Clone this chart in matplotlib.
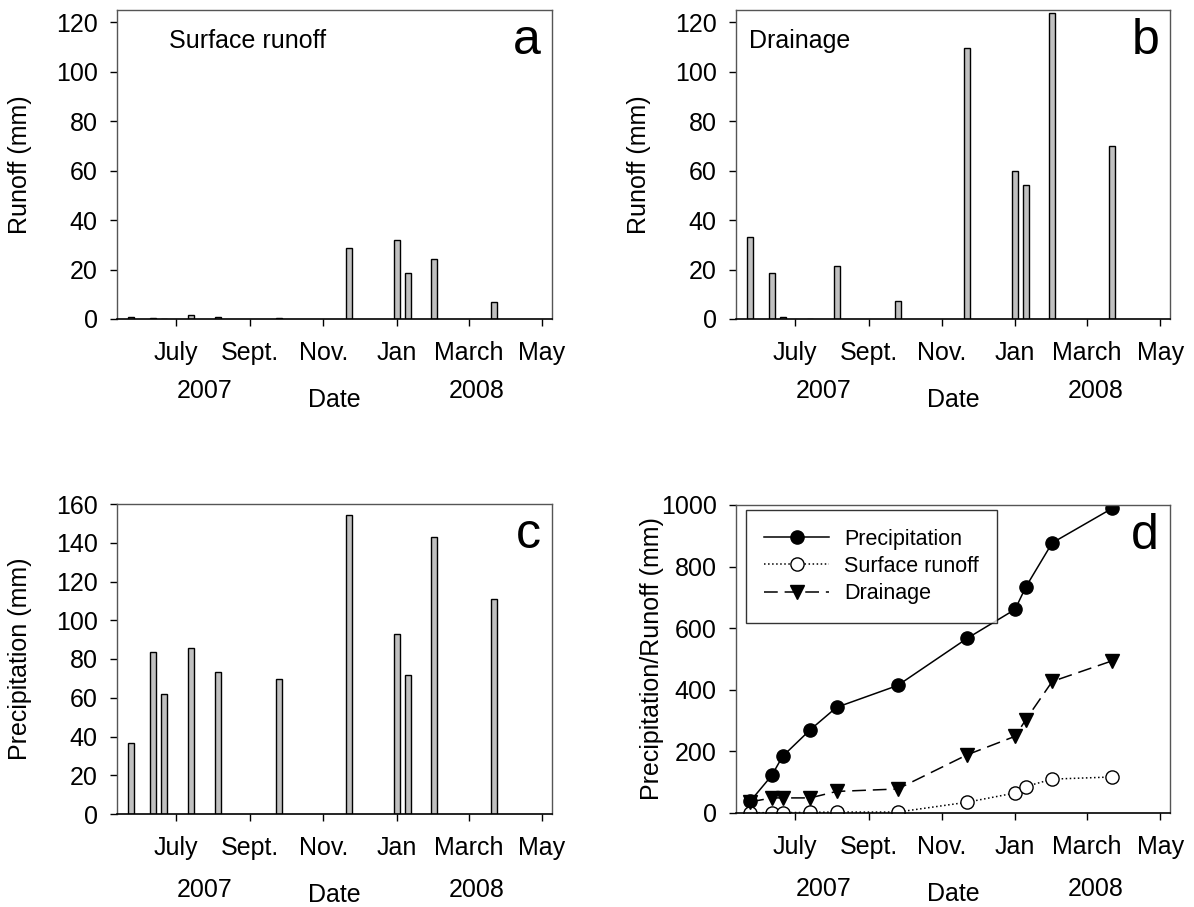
import datetime as dt

import matplotlib
matplotlib.use("Agg")
import matplotlib.pyplot as plt

plt.rcParams['font.family'] = ['Liberation Sans', 'DejaVu Sans']

# sampling dates of the 11 events
dates = [dt.date(2007, 5, 25), dt.date(2007, 6, 12), dt.date(2007, 6, 21),
         dt.date(2007, 7, 14), dt.date(2007, 8, 5), dt.date(2007, 9, 25),
         dt.date(2007, 11, 22), dt.date(2008, 1, 1), dt.date(2008, 1, 10),
         dt.date(2008, 2, 1), dt.date(2008, 3, 22)]

surface_runoff = [0.8, 0.4, 0.0, 1.5, 0.8, 0.3, 28.6, 31.8, 18.7, 24.2, 7.0]
drainage = [33.1, 18.8, 0.7, 0.2, 21.5, 7.3, 109.5, 60.0, 54.1, 123.9, 70.0]
precipitation = [36.4, 83.8, 61.7, 85.8, 73.3, 69.8, 154.3, 92.8, 71.9, 142.9, 110.9]

# cumulative totals (panel d)
cum_precip = [38, 122, 184, 270, 343, 414, 567, 661, 734, 877, 989]
cum_surface = [1, 1, 1, 2, 3, 3, 35, 65, 86, 110, 117]
cum_drainage = [36, 49, 49, 49, 70, 78, 189, 249, 303, 427, 494]

month_ticks = [dt.date(2007, 7, 1), dt.date(2007, 9, 1), dt.date(2007, 11, 1),
               dt.date(2008, 1, 1), dt.date(2008, 3, 1), dt.date(2008, 5, 1)]
month_labels = ['July', 'Sept.', 'Nov.', 'Jan', 'March', 'May']
years = ['2007', '2008']
year_pos = [0.202, 0.828]

x_start = dt.datetime(2007, 5, 13, 3)
x_end = dt.datetime(2008, 5, 9, 7)

FS = 18
W, H = 1194, 907


def px_axes(left, top, right, bottom):
    return fig.add_axes([left / W, 1 - bottom / H, (right - left) / W, (bottom - top) / H])


def style_axes(ax, ylim, yticks, ylabel, ylabel_x, year_off, date_off):
    ax.set_xlim(x_start, x_end)
    ax.set_ylim(*ylim)
    ax.set_yticks(yticks)
    ax.set_xticks(month_ticks)
    ax.set_xticklabels(month_labels)
    ax.tick_params(direction='out', length=5, width=1, labelsize=FS, color='black')
    ax.tick_params(axis='y', pad=9)
    ax.tick_params(axis='x', pad=11)
    for side in ['left', 'top', 'right']:
        ax.spines[side].set_color('#555555')
        ax.spines[side].set_linewidth(1)
    ax.spines['bottom'].set_color('black')
    ax.spines['bottom'].set_linewidth(1.2)

    # label offsets given in pixels from the axes frame
    h_px = ax.get_position().height * H
    w_px = ax.get_position().width * W
    ax.set_ylabel(ylabel, fontsize=FS, va='center')
    ax.yaxis.set_label_coords(-ylabel_x / w_px, 0.5)
    ax.set_xlabel('Date', fontsize=FS, va='center')
    ax.xaxis.set_label_coords(0.5, -date_off / h_px)
    for yr, xp in zip(years, year_pos):
        ax.text(xp, -year_off / h_px, yr, transform=ax.transAxes,
                ha='center', va='center', fontsize=FS)


def draw_bars(ax, values):
    ax.bar(dates, values, width=5, color='#c0c0c0', edgecolor='black', linewidth=1)


fig = plt.figure(figsize=(W / 100, H / 100), dpi=100)

ax_a = px_axes(117, 10, 552, 319)
draw_bars(ax_a, surface_runoff)
style_axes(ax_a, (0, 125), range(0, 121, 20), 'Runoff (mm)', 97, 72, 81)
ax_a.text(0.12, 0.9, 'Surface runoff', transform=ax_a.transAxes, fontsize=FS, va='center')
ax_a.text(0.975, 0.9, 'a', transform=ax_a.transAxes, fontsize=36, ha='right', va='center')

ax_b = px_axes(736, 10, 1170, 319)
draw_bars(ax_b, drainage)
style_axes(ax_b, (0, 125), range(0, 121, 20), 'Runoff (mm)', 97, 72, 81)
ax_b.text(0.03, 0.9, 'Drainage', transform=ax_b.transAxes, fontsize=FS, va='center')
ax_b.text(0.975, 0.9, 'b', transform=ax_b.transAxes, fontsize=36, ha='right', va='center')

ax_c = px_axes(117, 504, 552, 814)
draw_bars(ax_c, precipitation)
style_axes(ax_c, (0, 160), range(0, 161, 20), 'Precipitation (mm)', 97, 76, 81)
ax_c.text(0.975, 0.9, 'c', transform=ax_c.transAxes, fontsize=36, ha='right', va='center')

ax_d = px_axes(736, 505, 1170, 813)
ax_d.plot(dates, cum_precip, '-', color='black', lw=1.1, marker='o', ms=9.5,
          mfc='black', mec='black', label='Precipitation')
ax_d.plot(dates, cum_surface, ':', color='black', lw=1.1, marker='o', ms=9.5,
          mfc='white', mec='black', label='Surface runoff')
ax_d.plot(dates, cum_drainage, '--', color='black', lw=1.1, marker='v', ms=10,
          mfc='black', mec='black', dashes=(9, 4.5), label='Drainage')
style_axes(ax_d, (0, 1000), range(0, 1001, 200), 'Precipitation/Runoff (mm)', 84, 76, 81)
ax_d.text(0.975, 0.9, 'd', transform=ax_d.transAxes, fontsize=36, ha='right', va='center')
leg = ax_d.legend(loc='upper left', bbox_to_anchor=(0.023, 0.983), fontsize=15.5,
                  frameon=True, fancybox=False, borderaxespad=0, handlelength=3,
                  borderpad=0.85, labelspacing=0.3, handletextpad=0.7)
leg.get_frame().set_edgecolor('black')
leg.get_frame().set_linewidth(1)

fig.savefig('out.png', dpi=100)
